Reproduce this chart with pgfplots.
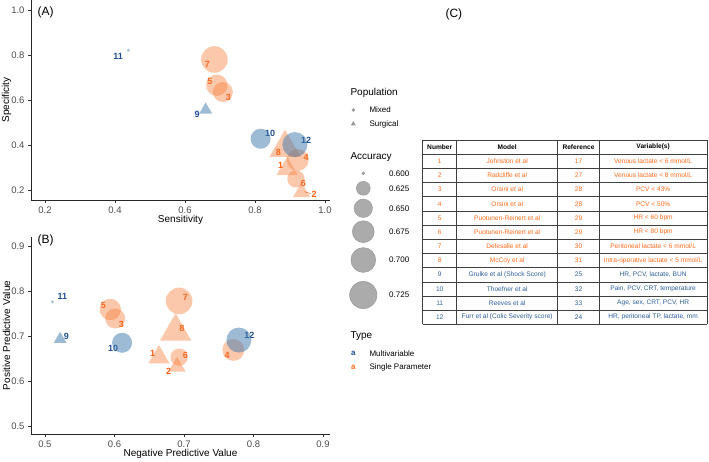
\documentclass[border=0pt]{standalone}
\usepackage{pgfplots}
\pgfplotsset{compat=1.18}
\usepackage{pgfplotstable}
\usepackage{fontspec}
\setmainfont{Liberation Sans}

\definecolor{orangeF}{HTML}{F57C38}
\definecolor{blueF}{HTML}{3C78AC}
\definecolor{orangeT}{HTML}{FF5A0E}
\definecolor{blueT}{HTML}{1F4E94}
\definecolor{tabO}{HTML}{FF6A1A}
\definecolor{tabB}{HTML}{2C5E9E}

% Single parameter, mixed population (circles)
\pgfplotstableread{
num sens spec npv ppv acc
3 0.708 0.637 0.601 0.739 0.661
4 0.922 0.336 0.771 0.669 0.675
5 0.691 0.667 0.594 0.759 0.671
6 0.917 0.252 0.693 0.653 0.643
7 0.684 0.781 0.693 0.778 0.717
}\singlemixed
% Single parameter, surgical population (triangles)
\pgfplotstableread{
num sens spec npv ppv acc
1 0.892 0.296 0.664 0.653 0.634
2 0.933 0.193 0.690 0.632 0.620
8 0.886 0.390 0.688 0.710 0.687
}\singlesurg
% Multivariable, mixed population (circles)
\pgfplotstableread{
num sens spec npv ppv acc
10 0.816 0.430 0.611 0.685 0.661
11 0.438 0.822 0.511 0.776 0.600
12 0.914 0.404 0.779 0.691 0.702
}\multimixed
% Multivariable, surgical population (triangles)
\pgfplotstableread{
num sens spec npv ppv acc
9 0.659 0.558 0.522 0.693 0.609
}\multisurg
% Accuracy legend keys
\pgfplotstableread{
x y acc
23.3 206.7 0.600
23.3 191.7 0.625
23.3 171.7 0.650
23.3 148.3 0.675
23.3 120.0 0.700
23.3 85.0 0.725
}\acclegend

\pgfplotsset{
  circ/.style 2 args={scatter, only marks, mark=*,
    visualization depends on={1.5+12.2*sqrt(max(\thisrow{acc}-0.6,0)/0.125) \as \rad},
    scatter/use mapped color={draw=#1, draw opacity=0, fill=#1, fill opacity=#2, /tikz/mark size=\rad}},
  tri/.style 2 args={scatter, only marks, mark=triangle*,
    visualization depends on={1.555*(1.5+12.2*sqrt(max(\thisrow{acc}-0.6,0)/0.125)) \as \rad},
    scatter/use mapped color={draw=#1, draw opacity=0, fill=#1, fill opacity=#2, /tikz/mark size=\rad}},
  panel/.style={scale only axis, width=299pt, clip=false,
    axis lines=left, axis line style={-, line width=0.6pt, black!85},
    tick align=outside, major tick length=3pt, tick style={black!80, line width=0.5pt},
    ticklabel style={font=\fontsize{9.5}{9.5}\selectfont, text=black!70},
    label style={font=\fontsize{10}{10}\selectfont},
    ylabel style={at={(axis description cs:-0.082,0.5)}, anchor=center},
    xlabel style={at={(axis description cs:0.5,-0.1)}, anchor=center},
    /pgf/number format/assume math mode=true,
    /pgf/number format/fixed, /pgf/number format/fixed zerofill,
    /pgf/number format/precision=1},
}
\tikzset{
  lblO/.style={text=orangeT, font=\bfseries\fontsize{9}{9}\selectfont, inner sep=0pt},
  lblB/.style={text=blueT, font=\bfseries\fontsize{9}{9}\selectfont, inner sep=0pt},
}

\begin{document}
\begin{tikzpicture}
\path[use as bounding box] (0,0) rectangle (709pt,-462pt);

% ---------------- Panel A ----------------
\begin{axis}[panel, at={(31pt,-200pt)}, anchor=south west, height=200pt,
  xmin=0.16, xmax=1.0143, ymin=0.1587, ymax=1.0444,
  xtick={0.2,0.4,0.6,0.8,1.0}, ytick={0.2,0.4,0.6,0.8,1.0},
  xlabel={Sensitivity}, ylabel={Specificity}]
\addplot[circ={orangeF}{0.42}] table[x=sens, y=spec] {\singlemixed};
\addplot[tri={orangeF}{0.42}] table[x=sens, y=spec] {\singlesurg};
\addplot[circ={blueF}{0.5}] table[x=sens, y=spec] {\multimixed};
\addplot[tri={blueF}{0.5}] table[x=sens, y=spec] {\multisurg};
\draw[orangeT, line width=0.4pt] (axis cs:0.940,0.196) -- (axis cs:0.960,0.187);
\node[lblB] at (axis cs:0.409,0.793) {11};
\node[lblO] at (axis cs:0.664,0.760) {7};
\node[lblO] at (axis cs:0.671,0.684) {5};
\node[lblO] at (axis cs:0.724,0.612) {3};
\node[lblB] at (axis cs:0.635,0.536) {9};
\node[lblB] at (axis cs:0.843,0.452) {10};
\node[lblB] at (axis cs:0.946,0.422) {12};
\node[lblO] at (axis cs:0.867,0.370) {8};
\node[lblO] at (axis cs:0.946,0.348) {4};
\node[lblO] at (axis cs:0.873,0.311) {1};
\node[lblO] at (axis cs:0.938,0.230) {6};
\node[lblO] at (axis cs:0.969,0.185) {2};
\end{axis}

% ---------------- Panel B ----------------
\begin{axis}[panel, at={(31pt,-434.3pt)}, anchor=south west, height=197.6pt,
  xmin=0.48, xmax=0.91, ymin=0.4816, ymax=0.9207,
  xtick={0.5,0.6,0.7,0.8,0.9}, ytick={0.5,0.6,0.7,0.8,0.9},
  xlabel={Negative Predictive Value}, ylabel={Positive Predictive Value}]
\addplot[circ={orangeF}{0.42}] table[x=npv, y=ppv] {\singlemixed};
\addplot[tri={orangeF}{0.42}] table[x=npv, y=ppv] {\singlesurg};
\addplot[circ={blueF}{0.5}] table[x=npv, y=ppv] {\multimixed};
\addplot[tri={blueF}{0.5}] table[x=npv, y=ppv] {\multisurg};
\node[lblB] at (axis cs:0.525,0.789) {11};
\node[lblO] at (axis cs:0.584,0.767) {5};
\node[lblO] at (axis cs:0.610,0.726) {3};
\node[lblO] at (axis cs:0.702,0.785) {7};
\node[lblO] at (axis cs:0.697,0.718) {8};
\node[lblB] at (axis cs:0.531,0.700) {9};
\node[lblB] at (axis cs:0.598,0.672) {10};
\node[lblB] at (axis cs:0.794,0.702) {12};
\node[lblO] at (axis cs:0.762,0.658) {4};
\node[lblO] at (axis cs:0.655,0.661) {1};
\node[lblO] at (axis cs:0.702,0.658) {6};
\node[lblO] at (axis cs:0.678,0.622) {2};
\end{axis}

% ---------------- Legend ----------------
\begin{axis}[at={(340pt,-380pt)}, anchor=south west, scale only axis,
  width=100pt, height=300pt, xmin=0, xmax=100, ymin=0, ymax=300,
  hide axis, clip=false]
\addplot[only marks, mark=*, mark size=1.5pt, mark options={draw=black!40, fill=black!40}] coordinates {(13.3,270)};
\addplot[only marks, mark=triangle*, mark size=2.9pt, mark options={draw=black!40, draw opacity=0, fill=black!40}] coordinates {(13.3,256)};
\addplot[scatter, only marks, mark=*,
    visualization depends on={1.5+12.2*sqrt(max(\thisrow{acc}-0.6,0)/0.125) \as \rad},
    scatter/use mapped color={draw=black!42, line width=0.4pt, fill=black!33, /tikz/mark size=\rad}]
  table[x=x, y=y] {\acclegend};
\node[anchor=west, font=\fontsize{10}{10}\selectfont] at (axis cs:7,287.3) {Population};
\node[anchor=west, font=\fontsize{8}{8}\selectfont] at (axis cs:26,270) {Mixed};
\node[anchor=west, font=\fontsize{8}{8}\selectfont] at (axis cs:26,256) {Surgical};
\node[anchor=west, font=\fontsize{10}{10}\selectfont] at (axis cs:7,223.3) {Accuracy};
\node[anchor=west, font=\fontsize{8}{8}\selectfont] at (axis cs:45.7,206.7) {0.600};
\node[anchor=west, font=\fontsize{8}{8}\selectfont] at (axis cs:45.7,191.7) {0.625};
\node[anchor=west, font=\fontsize{8}{8}\selectfont] at (axis cs:45.7,171.7) {0.650};
\node[anchor=west, font=\fontsize{8}{8}\selectfont] at (axis cs:45.7,148.3) {0.675};
\node[anchor=west, font=\fontsize{8}{8}\selectfont] at (axis cs:45.7,120.0) {0.700};
\node[anchor=west, font=\fontsize{8}{8}\selectfont] at (axis cs:45.7,85.0) {0.725};
\node[anchor=west, font=\fontsize{10}{10}\selectfont] at (axis cs:7,44) {Type};
\node[text=blueT, font=\bfseries\fontsize{8}{8}\selectfont] at (axis cs:13.3,26.7) {a};
\node[text=tabO, font=\bfseries\fontsize{8}{8}\selectfont] at (axis cs:13.3,12.3) {a};
\node[anchor=west, font=\fontsize{8}{8}\selectfont] at (axis cs:26,26.7) {Multivariable};
\node[anchor=west, font=\fontsize{8}{8}\selectfont] at (axis cs:26,12.3) {Single Parameter};
\end{axis}

% ---------------- Panel labels ----------------
\node[anchor=west, font=\fontsize{12}{12}\selectfont] at (34pt,-12pt) {(A)};
\node[anchor=west, font=\fontsize{12}{12}\selectfont] at (34pt,-240pt) {(B)};
\node[anchor=west, font=\fontsize{12}{12}\selectfont] at (442pt,-14pt) {(C)};

% ---------------- Table (C) ----------------
\foreach \k in {0,...,13}
  \draw[black!75, line width=0.6pt] (422.7pt,{-140pt-\k*14.18pt}) -- (707pt,{-140pt-\k*14.18pt});
\foreach \xx in {422.7,456.7,557.7,599.3,707}
  \draw[black!75, line width=0.6pt] (\xx pt,-140pt) -- (\xx pt,{-140pt-13*14.18pt});
\begin{scope}[every node/.style={font=\bfseries\fontsize{6.6}{7}\selectfont, inner sep=0pt}]
\node at (439.7pt,{-140pt-0.5*14.18pt}) {Number};
\node at (507.2pt,{-140pt-0.5*14.18pt}) {Model};
\node at (578.5pt,{-140pt-0.5*14.18pt}) {Reference};
\node at (653.15pt,{-140pt-0.5*14.18pt}) {Variable(s)};
\end{scope}
\foreach \n/\m/\r/\v/\c in {
  1/{Johnston et al}/17/{Venous lactate < 6 mmol/L}/tabO,
  2/{Radcliffe et al}/27/{Venous lactate < 8 mmol/L}/tabO,
  3/{Orsini et al}/28/{PCV < 43\%}/tabO,
  4/{Orsini et al}/28/{PCV < 50\%}/tabO,
  5/{Puotunen-Reinert et al}/29/{HR < 60 bpm}/tabO,
  6/{Puotunen-Reinert et al}/29/{HR < 80 bpm}/tabO,
  7/{Delesalle et al}/30/{Peritoneal lactate < 6 mmol/L}/tabO,
  8/{McCoy et al}/31/{Intra-operative lactate < 5 mmol/L}/tabO,
  9/{Grulke et al (Shock Score)}/25/{HR, PCV, lactate, BUN}/tabB,
  10/{Thoefner et al}/32/{Pain, PCV, CRT, temperature}/tabB,
  11/{Reeves et al}/33/{Age, sex, CRT, PCV, HR}/tabB,
  12/{Furr et al (Colic Severity score)}/24/{HR, peritoneal TP, lactate, mm}/tabB}
{
  \begin{scope}[every node/.style={font=\fontsize{6.6}{7}\selectfont, inner sep=0pt, text=\c}]
  \node at (439.7pt,{-140pt-(\n+0.5)*14.18pt}) {\n};
  \node at (507.2pt,{-140pt-(\n+0.5)*14.18pt}) {\m};
  \node at (578.5pt,{-140pt-(\n+0.5)*14.18pt}) {\r};
  \node at (653.15pt,{-140pt-(\n+0.5)*14.18pt}) {\v};
  \end{scope}
}
\end{tikzpicture}
\end{document}
